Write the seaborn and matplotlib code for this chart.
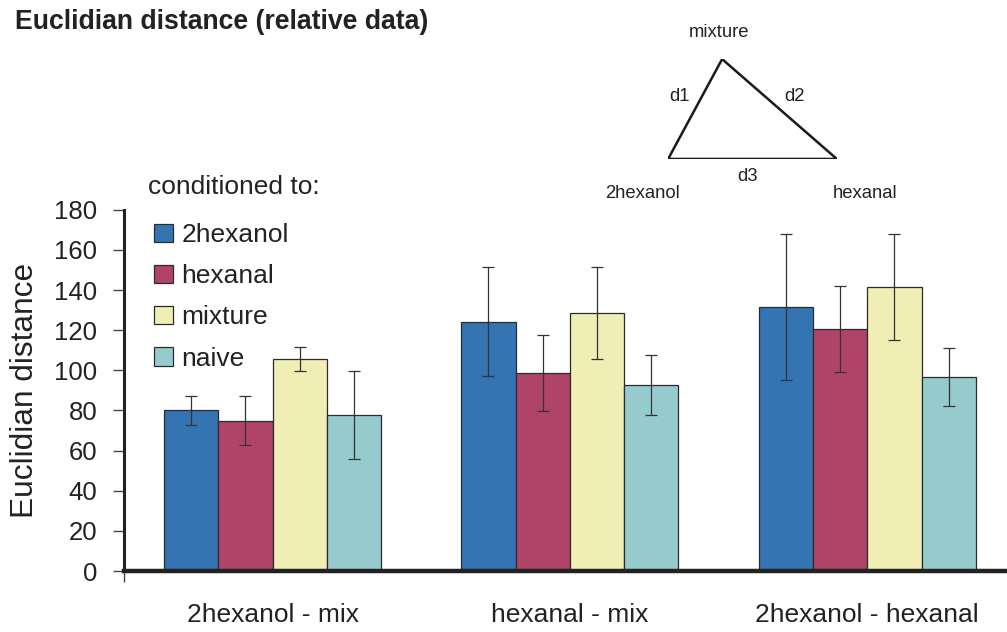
import numpy as np
import pandas as pd
import matplotlib
matplotlib.use("Agg")
import matplotlib.pyplot as plt
import seaborn as sns
from matplotlib.container import BarContainer

# pairwise comparisons (x categories) and conditioning groups (hue)
pairs = ["2hexanol - mix", "hexanal - mix", "2hexanol - hexanal"]
conditions = ["2hexanol", "hexanal", "mixture", "naive"]

# mean euclidian distance per condition, one value per pair
mean_2hexanol = [80.0, 124.3, 131.6]
mean_hexanal = [75.0, 98.5, 120.7]
mean_mixture = [105.6, 128.6, 141.6]
mean_naive = [77.7, 92.6, 96.6]

# error bar half-lengths
err_2hexanol = [7.0, 27.0, 36.3]
err_hexanal = [12.0, 19.0, 21.5]
err_mixture = [6.0, 23.0, 26.5]
err_naive = [22.0, 15.0, 14.5]

colors = ["#3474B2", "#B04468", "#F0EDB5", "#96CBCE"]
yticks = [0, 20, 40, 60, 80, 100, 120, 140, 160, 180]

# triangle sketch (schematic, inset axes units)
tri_labels = ["2hexanol", "mixture", "hexanal"]
tri_x = [0.0, 0.32, 1.0]
tri_y = [0.0, 1.0, 0.0]

means = [mean_2hexanol, mean_hexanal, mean_mixture, mean_naive]
errs = [err_2hexanol, err_hexanal, err_mixture, err_naive]

df = pd.DataFrame({
    "pair": np.tile(pairs, len(conditions)),
    "condition": np.repeat(conditions, len(pairs)),
    "distance": np.concatenate(means),
})

sns.set_style("white")
plt.rcParams["font.family"] = ["Liberation Sans", "DejaVu Sans"]
text_col = "#222222"

fig = plt.figure(figsize=(10.07, 6.32), dpi=100)
ax = fig.add_axes([0.123, 0.0965, 0.877, 0.5715])

sns.barplot(data=df, x="pair", y="distance", hue="condition",
            order=pairs, hue_order=conditions, palette=colors,
            width=0.73, errorbar=None, edgecolor="#2b2b2b", linewidth=0.9,
            saturation=1, ax=ax)

# error bars on top of each bar
bar_conts = [c for c in ax.containers if isinstance(c, BarContainer)]
for i, cont in enumerate(bar_conts):
    xs = [b.get_x() + b.get_width() / 2 for b in cont]
    ax.errorbar(xs, means[i], yerr=errs[i], fmt="none", ecolor="#333333",
                elinewidth=0.9, capsize=4, capthick=0.9, zorder=5)

ax.set_ylim(0, 180)
ax.set_xlim(-0.5, 2.47)
ax.set_yticks(yticks)
ax.set_xlabel("")
ax.set_ylabel("Euclidian distance", fontsize=22.8, color=text_col)
ax.yaxis.set_label_coords(-0.095, 0.5)
ax.tick_params(axis="y", direction="out", length=8, width=1, color="#444444",
               labelsize=18.5, labelcolor=text_col, pad=11, left=True)
ax.tick_params(axis="x", which="major", length=0, labelsize=19,
               labelcolor=text_col, pad=23)
ax.set_xticks([-0.5], minor=True)
ax.tick_params(axis="x", which="minor", direction="out", length=8, width=1,
               color="#444444", bottom=True)

sns.despine(ax=ax)
ax.spines["left"].set_linewidth(2.2)
ax.spines["bottom"].set_linewidth(3.2)
for s in ["left", "bottom"]:
    ax.spines[s].set_color("#222222")

# legend
handles, labels = ax.get_legend_handles_labels()
ax.legend(handles, labels, loc="upper left", bbox_to_anchor=(0.153, 0.647),
          bbox_transform=fig.transFigure, frameon=False, fontsize=19,
          handlelength=0.7, handleheight=0.7, handletextpad=0.34,
          labelspacing=0.65, borderpad=0, borderaxespad=0, labelcolor=text_col)
fig.text(0.147, 0.704, "conditioned to:", fontsize=19, color=text_col,
         ha="left", va="center")

# title
fig.text(0.015, 0.965, "Euclidian distance (relative data)", fontsize=19.2,
         fontweight="bold", color=text_col, ha="left", va="center")

# triangle inset
tax = fig.add_axes([0.6635, 0.7485, 0.1675, 0.158])
tax.plot(tri_x + [tri_x[0]], tri_y + [tri_y[0]], color="#1a1a1a", lw=1.8,
         solid_joinstyle="miter")
tax.set_xlim(0, 1)
tax.set_ylim(0, 1)
tax.axis("off")
fs_tri = 13.3
tax.text(0.30, 1.27, tri_labels[1], fontsize=fs_tri, color=text_col, ha="center", va="center", clip_on=False)
tax.text(0.07, 0.63, "d1", fontsize=fs_tri, color=text_col, ha="center", va="center")
tax.text(0.75, 0.63, "d2", fontsize=fs_tri, color=text_col, ha="center", va="center")
tax.text(0.47, -0.18, "d3", fontsize=fs_tri, color=text_col, ha="center", va="center", clip_on=False)
tax.text(-0.15, -0.35, tri_labels[0], fontsize=fs_tri, color=text_col, ha="center", va="center", clip_on=False)
tax.text(1.17, -0.35, tri_labels[2], fontsize=fs_tri, color=text_col, ha="center", va="center", clip_on=False)

fig.savefig("out.png", dpi=100)
